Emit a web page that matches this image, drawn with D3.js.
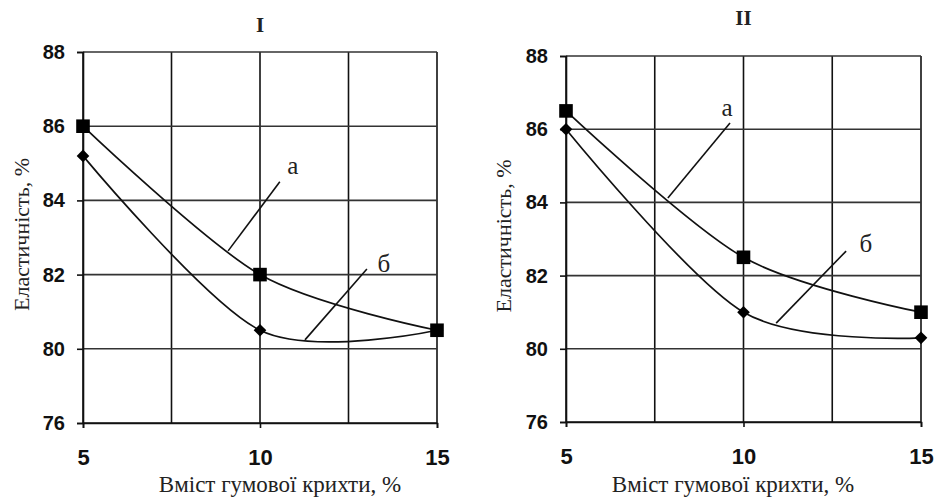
<!DOCTYPE html>
<html>
<head>
<meta charset="utf-8">
<script src="https://cdn.jsdelivr.net/npm/d3@7"></script>
<style>
  body { margin: 0; background: #fff; }
  svg { display: block; }
  .tick-label { font-family: "Liberation Sans", Arial, sans-serif; font-weight: bold; fill: #111; }
  .serif { font-family: "Liberation Serif", "Times New Roman", serif; fill: #222; }
</style>
</head>
<body>
<svg id="chart" width="938" height="497"></svg>
<script>
// data
var xValues = [5, 10, 15];
var gridX = [5, 7.5, 10, 12.5, 15];
var xTickLabels = ["5", "10", "15"];
var yTickValues = [78, 80, 82, 84, 86, 88];
var yTickLabels = ["76", "80", "82", "84", "86", "88"];   // as printed on the original

var seriesA_I = [86, 82, 80.5];
var seriesB_I = [85.2, 80.5, 80.5];
var seriesA_II = [86.5, 82.5, 81];
var seriesB_II = [86, 81, 80.3];

// leader lines for the curve labels, in data units
var leaders_I = [
  {label: "а", x1: 9.10, y1: 82.64, x2: 10.56, y2: 84.50, lx: 10.93, ly: 84.95},
  {label: "б", x1: 11.27, y1: 80.24, x2: 13.02, y2: 82.15, lx: 13.50, ly: 82.31}
];
var leaders_II = [
  {label: "а", x1: 7.87, y1: 84.12, x2: 9.62, y2: 86.17, lx: 9.54, ly: 86.61},
  {label: "б", x1: 10.92, y1: 80.70, x2: 12.89, y2: 82.67, lx: 13.45, ly: 82.89}
];

var svg = d3.select("#chart");

var panels = [
  {title: "I", a: seriesA_I, b: seriesB_I, leaders: leaders_I,
   left: 83, right: 437, top: 52, bottom: 423, titleY: 25, ylabX: 21, xlabX: 280},
  {title: "II", a: seriesA_II, b: seriesB_II, leaders: leaders_II,
   left: 566, right: 921, top: 56, bottom: 422, titleY: 18, ylabX: 503, xlabX: 733}
];

panels.forEach(function(p) {
  var x = d3.scaleLinear().domain([5, 15]).range([p.left, p.right]);
  var y = d3.scaleLinear().domain([78, 88]).range([p.bottom, p.top]);
  var g = svg.append("g");

  // grid
  g.selectAll(".gx").data(gridX).enter().append("line")
      .attr("x1", function(d) { return x(d); })
      .attr("x2", function(d) { return x(d); })
      .attr("y1", y(88)).attr("y2", y(78))
      .attr("stroke", "#111").attr("stroke-width", 1.6);
  g.selectAll(".gy").data(yTickValues).enter().append("line")
      .attr("x1", x(5)).attr("x2", x(15))
      .attr("y1", function(d) { return y(d); })
      .attr("y2", function(d) { return y(d); })
      .attr("stroke", function(d) { return d === 78 ? "#111" : "#333"; })
      .attr("stroke-width", 1.6);

  // axes
  var yAxis = d3.axisLeft(y).tickValues(yTickValues).tickSize(6).tickPadding(12)
      .tickFormat(function(d, i) { return yTickLabels[i]; });
  var xAxis = d3.axisBottom(x).tickValues(xValues).tickSize(5).tickPadding(21)
      .tickFormat(function(d, i) { return xTickLabels[i]; });

  var ya = g.append("g").attr("transform", "translate(" + x(5) + ",0)").call(yAxis);
  var xa = g.append("g").attr("transform", "translate(0," + y(78) + ")").call(xAxis);
  [ya, xa].forEach(function(a) {
    a.select(".domain").attr("stroke", "#111").attr("stroke-width", 1.6);
    a.selectAll(".tick line").attr("stroke", "#111").attr("stroke-width", 1.6);
    a.selectAll(".tick text").attr("class", "tick-label").attr("fill", "#111");
  });
  ya.selectAll(".tick text").style("font-size", "20px");
  xa.selectAll(".tick text").style("font-size", "22px");

  // curves
  var line = d3.line()
      .x(function(d, i) { return x(xValues[i]); })
      .y(function(d) { return y(d); })
      .curve(d3.curveCardinal.tension(0.1));

  [p.a, p.b].forEach(function(s) {
    g.append("path").datum(s)
        .attr("d", line)
        .attr("fill", "none")
        .attr("stroke", "#111")
        .attr("stroke-width", 1.7);
  });

  // markers
  g.selectAll(".sq").data(p.a).enter().append("path")
      .attr("transform", function(d, i) { return "translate(" + x(xValues[i]) + "," + y(d) + ")"; })
      .attr("d", d3.symbol().type(d3.symbolSquare).size(185))
      .attr("fill", "#000");
  g.selectAll(".dm").data(p.b).enter().append("path")
      .attr("transform", function(d, i) { return "translate(" + x(xValues[i]) + "," + y(d) + ") rotate(45)"; })
      .attr("d", d3.symbol().type(d3.symbolSquare).size(80))
      .attr("fill", "#000");

  // leader lines and labels
  p.leaders.forEach(function(l) {
    g.append("line")
        .attr("x1", x(l.x1)).attr("y1", y(l.y1))
        .attr("x2", x(l.x2)).attr("y2", y(l.y2))
        .attr("stroke", "#111").attr("stroke-width", 1.6);
    g.append("text").attr("class", "serif")
        .attr("x", x(l.lx)).attr("y", y(l.ly))
        .attr("text-anchor", "middle").attr("dy", "0.35em")
        .style("font-size", "25px")
        .text(l.label);
  });

  // titles
  g.append("text").attr("class", "serif")
      .attr("x", (p.left + p.right) / 2).attr("y", p.titleY)
      .attr("text-anchor", "middle").attr("dy", "0.35em")
      .style("font-size", "21px").style("font-weight", "bold")
      .text(p.title);

  g.append("text").attr("class", "serif")
      .attr("x", p.xlabX).attr("y", 484)
      .attr("text-anchor", "middle").attr("dy", "0.35em")
      .style("font-size", "23px").attr("fill", "#333")
      .text("Вміст гумової крихти, %");

  g.append("text").attr("class", "serif")
      .attr("transform", "translate(" + p.ylabX + "," + ((p.top + p.bottom) / 2 - 3) + ") rotate(-90)")
      .attr("text-anchor", "middle").attr("dy", "0.35em")
      .style("font-size", "22px").attr("fill", "#333")
      .text("Еластичність, %");
});
</script>
</body>
</html>
